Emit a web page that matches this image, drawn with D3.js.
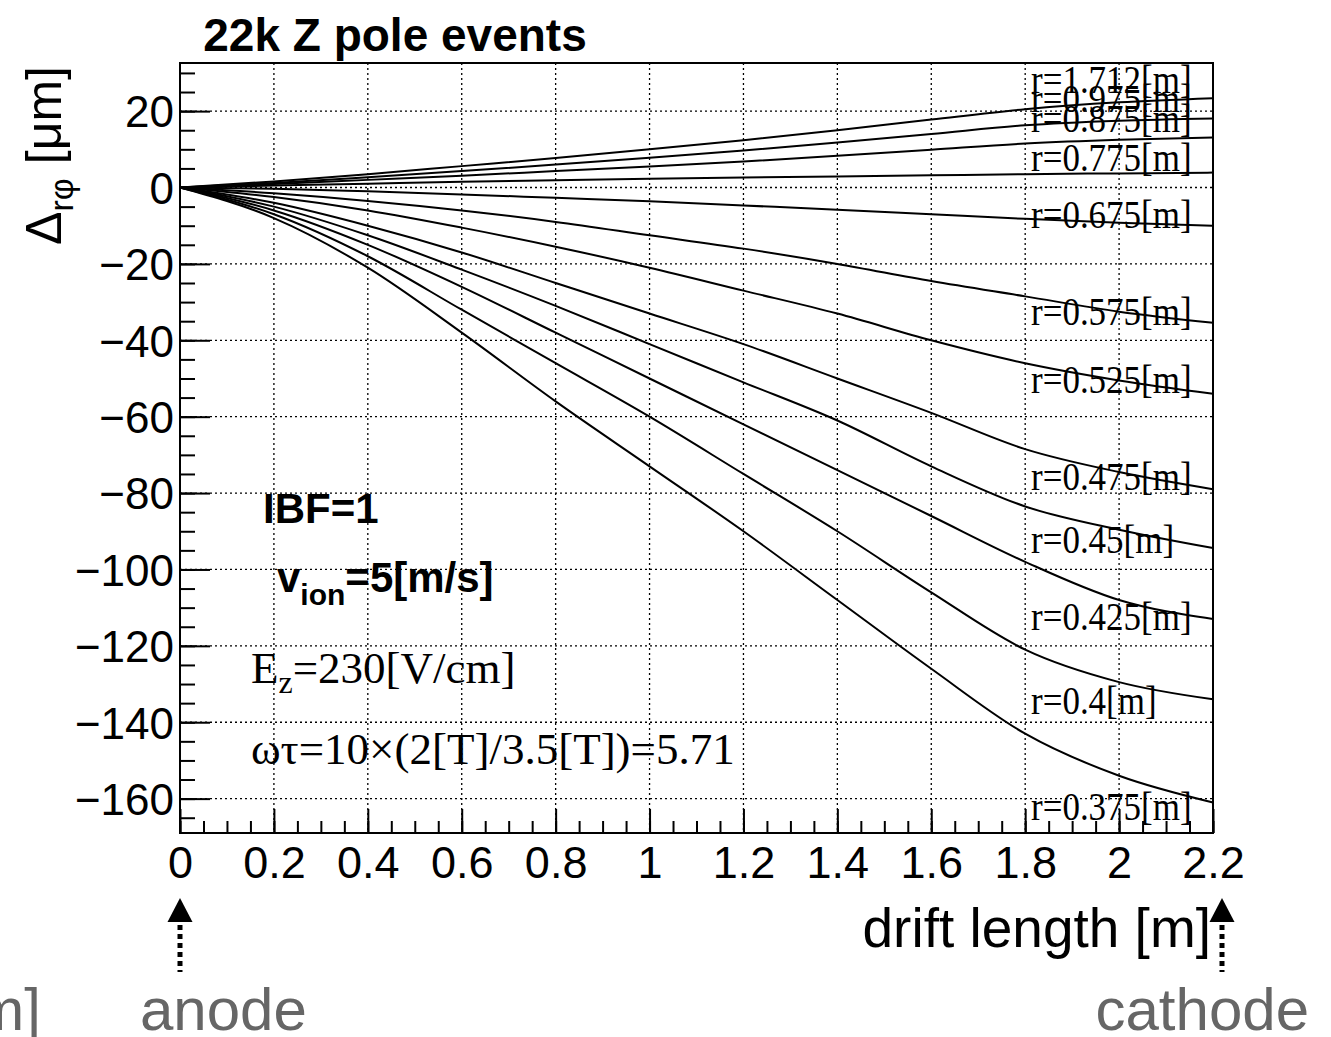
<!DOCTYPE html>
<html><head><meta charset="utf-8">
<script src="https://cdn.jsdelivr.net/npm/d3@7"></script>
<style>body{margin:0;background:#fff}</style>
</head><body>
<svg id="c" width="1331" height="1037"></svg>
<script>
// ---- data ----
const drift = [0, 0.2, 0.4, 0.6, 0.8, 1.0, 1.2, 1.4, 1.6, 1.8, 2.0, 2.2];
const radii = ["1.712", "0.975", "0.875", "0.775", "0.675", "0.575", "0.525", "0.475", "0.45", "0.425", "0.4", "0.375"];
const r1712 = [0, 1.6, 3.5, 5.6, 7.7, 10.0, 12.4, 15.0, 17.8, 20.5, 22.3, 23.4];
const r0975 = [0, 1.2, 2.7, 4.3, 6.0, 7.8, 9.7, 11.8, 14.0, 16.3, 17.5, 18.1];
const r0875 = [0, 0.9, 2.0, 3.1, 4.3, 5.5, 6.8, 8.3, 9.9, 11.5, 12.5, 13.1];
const r0775 = [0, 0.5, 1.0, 1.5, 1.9, 2.3, 2.6, 2.9, 3.2, 3.5, 3.7, 3.9];
const r0675 = [0, -0.3, -1.0, -1.8, -2.7, -3.6, -4.7, -5.8, -7.0, -8.2, -9.2, -10.0];
const r0575 = [0, -1.5, -3.5, -6.0, -9.0, -12.5, -16.0, -20.0, -24.5, -28.5, -32.5, -35.4];
const r0525 = [0, -2.5, -6.0, -10.5, -15.5, -21.0, -27.0, -33.0, -40.0, -46.0, -50.5, -54.0];
const r0475 = [0, -4.0, -10.0, -17.0, -25.0, -33.0, -41.0, -50.0, -59.0, -68.5, -74.5, -79.0];
const r0450 = [0, -5.0, -12.5, -21.5, -31.0, -41.0, -51.0, -61.0, -73.0, -83.5, -89.6, -94.4];
const r0425 = [0, -6.0, -15.0, -26.0, -38.0, -50.0, -62.0, -74.0, -86.0, -98.0, -108.0, -113.0];
const r0400 = [0, -7.0, -18.0, -32.0, -46.0, -60.0, -75.0, -90.0, -106.0, -121.0, -129.5, -134.0];
const r0375 = [0, -8.0, -21.0, -38.0, -56.0, -73.0, -90.0, -108.0, -126.0, -143.0, -154.0, -161.0];
const seriesValues = [r1712, r0975, r0875, r0775, r0675, r0575, r0525, r0475, r0450, r0425, r0400, r0375];
// value (um) at which each r= label is anchored (baseline)
const labelAt = [24.8, 19.8, 14.5, 4.3, -10.6, -36.0, -53.8, -79.2, -95.7, -115.9, -137.9, -165.7];
const xTicks = [0, 0.2, 0.4, 0.6, 0.8, 1.0, 1.2, 1.4, 1.6, 1.8, 2.0, 2.2];
const yTicks = [20, 0, -20, -40, -60, -80, -100, -120, -140, -160];
const xDomain = [0, 2.2];
const yDomain = [-169, 32.6];

// ---- layout ----
const L = 180, R = 1213, T = 63, B = 833;
const svg = d3.select("#c");
const sans = "'Liberation Sans', Arial, Helvetica, sans-serif";
const serif = "'Liberation Serif', 'Times New Roman', serif";

const x = d3.scaleLinear().domain(xDomain).range([L, R]);
const y = d3.scaleLinear().domain(yDomain).range([B, T]);

// grid
const grid = svg.append("g").attr("stroke", "#000").attr("stroke-width", 1.3).attr("stroke-dasharray", "2,3");
grid.selectAll("line.gx").data(xTicks.filter(v => v > 0 && v < 2.2)).join("line")
  .attr("x1", d => x(d)).attr("x2", d => x(d)).attr("y1", T).attr("y2", B);
grid.selectAll("line.gy").data(yTicks).join("line")
  .attr("x1", L).attr("x2", R).attr("y1", d => y(d)).attr("y2", d => y(d));

// axes (ticks inward)
const fmt = d3.format("~g");
const xMinor = d3.range(0, 2.2001, 0.05).map(v => +v.toFixed(2));
const yMinor = d3.range(-165, 30.001, 5);
svg.append("g").attr("transform", `translate(0,${B})`)
  .call(d3.axisBottom(x).tickValues(xMinor).tickSize(-12).tickFormat(""))
  .call(g => g.select(".domain").remove())
  .call(g => g.selectAll("line").attr("stroke", "#000").attr("stroke-width", 2));
const gx = svg.append("g").attr("transform", `translate(0,${B})`)
  .call(d3.axisBottom(x).tickValues(xTicks).tickSize(-24).tickFormat(fmt))
  .call(g => g.select(".domain").remove());
gx.selectAll("line").attr("stroke", "#000").attr("stroke-width", 2);
gx.selectAll("text").attr("y", 45).attr("dy", 0).attr("fill", "#000")
  .style("font-family", sans).style("font-size", "45px");

svg.append("g").attr("transform", `translate(${L},0)`)
  .call(d3.axisLeft(y).tickValues(yMinor).tickSize(-15).tickFormat(""))
  .call(g => g.select(".domain").remove())
  .call(g => g.selectAll("line").attr("stroke", "#000").attr("stroke-width", 2));
const gy = svg.append("g").attr("transform", `translate(${L},0)`)
  .call(d3.axisLeft(y).tickValues(yTicks).tickSize(-30).tickFormat(fmt))
  .call(g => g.select(".domain").remove());
gy.selectAll("line").attr("stroke", "#000").attr("stroke-width", 2);
gy.selectAll("text").attr("x", -6).attr("dy", "0.36em").attr("fill", "#000")
  .style("font-family", sans).style("font-size", "44px");

// frame
svg.append("rect").attr("x", L).attr("y", T).attr("width", R - L).attr("height", B - T)
  .attr("fill", "none").attr("stroke", "#000").attr("stroke-width", 2);

// curves
const line = d3.line().x((d, i) => x(drift[i])).y(d => y(d)).curve(d3.curveMonotoneX);
svg.append("g").selectAll("path").data(seriesValues).join("path")
  .attr("d", d => line(d)).attr("fill", "none").attr("stroke", "#000").attr("stroke-width", 2);

// r labels
svg.append("g").selectAll("text").data(radii).join("text")
  .attr("transform", (d, i) => `translate(1031,${y(labelAt[i])}) scale(1,1.15)`)
  .style("font-family", serif).style("font-size", "35px").attr("fill", "#000")
  .text(d => `r=${d}[m]`);

// title
svg.append("text").attr("x", 395).attr("y", 51).attr("text-anchor", "middle")
  .style("font-family", sans).style("font-size", "46px").style("font-weight", "bold").text("22k Z pole events");

// axis titles
svg.append("text").attr("x", 1211).attr("y", 947).attr("text-anchor", "end")
  .style("font-family", sans).style("font-size", "55px").text("drift length [m]");
const yt = svg.append("text").attr("transform", "translate(61,66) rotate(-90)").attr("text-anchor", "end")
  .style("font-family", sans).style("font-size", "50px");
yt.append("tspan").text("Δ");
yt.append("tspan").attr("dy", 12).style("font-size", "34px").text("rφ");
yt.append("tspan").attr("dy", -12).text(" [μm]");

// annotations
svg.append("text").attr("x", 263).attr("y", 523)
  .style("font-family", sans).style("font-size", "42px").style("font-weight", "bold").text("IBF=1");
const v = svg.append("text").attr("x", 277).attr("y", 592)
  .style("font-family", sans).style("font-size", "42px").style("font-weight", "bold");
v.append("tspan").text("v");
v.append("tspan").attr("dy", 13).style("font-size", "30px").text("ion");
v.append("tspan").attr("dy", -13).text("=5[m/s]");
const ez = svg.append("text").attr("x", 251).attr("y", 683)
  .style("font-family", serif).style("font-size", "45px");
ez.append("tspan").text("E");
ez.append("tspan").attr("dy", 10).style("font-size", "32px").text("z");
ez.append("tspan").attr("dy", -10).text("=230[V/cm]");
svg.append("text").attr("x", 251).attr("y", 764)
  .style("font-family", serif).style("font-size", "45px").text("ωτ=10×(2[T]/3.5[T])=5.71");

// anode / cathode markers
function marker(px) {
  svg.append("path").attr("d", `M${px},898 L${px - 12.5},922 L${px + 12.5},922 Z`).attr("fill", "#000");
  svg.append("line").attr("x1", px).attr("x2", px).attr("y1", 925).attr("y2", 972)
    .attr("stroke", "#000").attr("stroke-width", 5).attr("stroke-dasharray", "5,4");
}
marker(x(0));
marker(1222);
const grey = "#666";
svg.append("text").attr("x", 140).attr("y", 1030).attr("fill", grey)
  .style("font-family", sans).style("font-size", "60px").text("anode");
svg.append("text").attr("x", 1309).attr("y", 1030).attr("text-anchor", "end").attr("fill", grey)
  .style("font-family", sans).style("font-size", "60px").text("cathode");
svg.append("text").attr("x", 41).attr("y", 1030).attr("text-anchor", "end").attr("fill", grey)
  .style("font-family", sans).style("font-size", "60px").text("[m]");
</script>
</body></html>
